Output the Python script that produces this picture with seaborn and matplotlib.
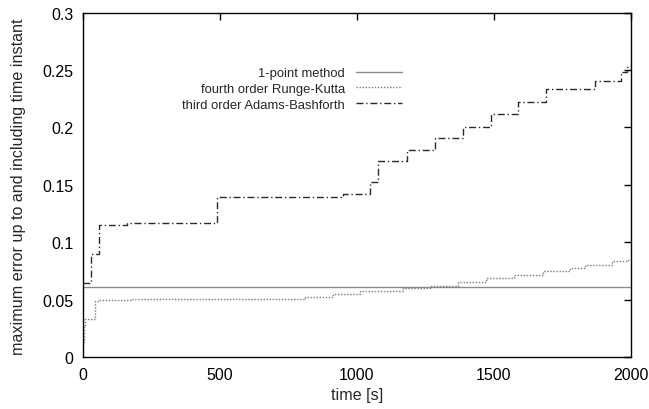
import matplotlib
matplotlib.use("Agg")
import matplotlib.pyplot as plt
import seaborn as sns
import pandas as pd

# running maximum error of each integration scheme (stepwise in time)
one_point_t = [0, 2000]
one_point_err = [0.0616, 0.0616]

rk4_t = [0, 2, 6, 43, 58, 175, 248, 810, 913, 1011, 1167, 1270, 1370,
         1473, 1574, 1680, 1777, 1832, 1933, 1990, 2000]
rk4_err = [0.013, 0.027, 0.0335, 0.0494, 0.0502, 0.0506, 0.0510, 0.0523,
           0.0552, 0.0576, 0.0602, 0.0624, 0.0657, 0.0688, 0.0717, 0.0750,
           0.0781, 0.0804, 0.0837, 0.0850, 0.0850]

ab3_t = [0, 30, 58, 162, 490, 948, 1047, 1078, 1181, 1285, 1386, 1488,
         1589, 1692, 1869, 1964, 1985, 2000]
ab3_err = [0.0648, 0.0897, 0.1155, 0.1172, 0.1396, 0.1420, 0.1525, 0.1710,
           0.1807, 0.1906, 0.2007, 0.2115, 0.2225, 0.2335, 0.2407, 0.2485,
           0.2530, 0.2545]

labels = ["1-point method", "fourth order Runge-Kutta",
          "third order Adams-Bashforth"]
x_ticks = [0, 500, 1000, 1500, 2000]
y_ticks = [0, 0.05, 0.1, 0.15, 0.2, 0.25, 0.3]
y_tick_labels = ["0", "0.05", "0.1", "0.15", "0.2", "0.25", "0.3"]

sns.set_theme(style="white")
plt.rcParams["font.family"] = ["Liberation Sans", "DejaVu Sans"]

fig = plt.figure(figsize=(6.49, 4.10), dpi=100)
ax = fig.add_axes([0.128, 0.126, 0.844, 0.841])

series = [
    (one_point_t, one_point_err, labels[0], "#8a8a8a", "-"),
    (rk4_t, rk4_err, labels[1], "#7a7a7a", (0, (1, 1.2))),
    (ab3_t, ab3_err, labels[2], "#2a2a2a", (0, (5, 2, 1, 2))),
]
for t, err, lab, col, ls in series:
    df = pd.DataFrame({"time": t, "err": err})
    sns.lineplot(data=df, x="time", y="err", ax=ax, drawstyle="steps-post",
                 estimator=None, sort=False, color=col, linestyle=ls,
                 linewidth=1.0, label=lab)

ax.set_xlim(0, 2000)
ax.set_ylim(0, 0.3)
ax.set_xticks(x_ticks)
ax.set_xticklabels([str(v) for v in x_ticks])
ax.set_yticks(y_ticks)
ax.set_yticklabels(y_tick_labels)
ax.tick_params(axis="both", which="both", direction="in", length=5,
               width=1, top=True, right=True, labelsize=11.5,
               colors="black", pad=7)
for s in ax.spines.values():
    s.set_color("black")
    s.set_linewidth(1.0)

ax.set_xlabel("time [s]", fontsize=11.6)
ax.set_ylabel("maximum error up to and including time instant", fontsize=11.6)
ax.xaxis.set_label_coords(0.5, -0.086)
ax.yaxis.set_label_coords(-0.104, 0.497)

# legend: text on the left, right-aligned, sample line on the right
ax.legend(loc="upper right", bbox_to_anchor=(0.582, 0.842),
          frameon=False, markerfirst=False, fontsize=9.4,
          handlelength=3.5, handletextpad=0.85, labelspacing=0.28,
          borderaxespad=0.0, borderpad=0.0)

fig.savefig("out.png", dpi=100, facecolor="white")
